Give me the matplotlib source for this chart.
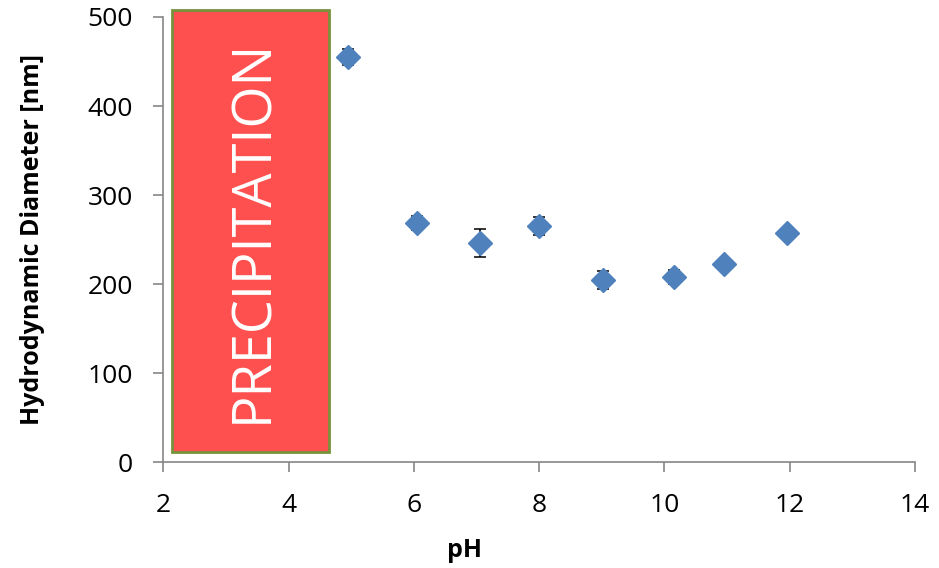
import matplotlib
matplotlib.use('Agg')
import matplotlib.pyplot as plt
from matplotlib.patches import Rectangle

# data
ph = [4.95, 6.05, 7.05, 8.0, 9.02, 10.15, 10.95, 11.95]
diameter = [455, 269, 246, 265, 205, 208, 223, 257]
err = [9, 8, 16, 10, 10, 8, 3, 3]

precip_x = [2.13, 4.65]
precip_y = [11, 508]
precip_label = 'PRECIPITATION'

x_ticks = [2, 4, 6, 8, 10, 12, 14]
y_ticks = [0, 100, 200, 300, 400, 500]


def main():
    plt.rcParams['font.family'] = ['Open Sans', 'DejaVu Sans']
    fig = plt.figure(figsize=(9.39, 5.68), dpi=100)
    ax = fig.add_axes([0.1741, 0.1861, 0.8003, 0.784])

    # red box over the precipitation range
    box = Rectangle((precip_x[0], precip_y[0]), precip_x[1] - precip_x[0],
                    precip_y[1] - precip_y[0], facecolor='#FF5050',
                    edgecolor='#77933C', linewidth=2.0, clip_on=False, zorder=1)
    ax.add_patch(box)
    ax.text(3.42, 260, precip_label,
            rotation=90, color='white', fontsize=39, ha='center', va='center',
            zorder=2)

    ax.errorbar(ph, diameter, yerr=err, fmt='D', color='#4F81BD', markersize=12,
                ecolor='black', elinewidth=1.1, capsize=4.5, capthick=1.1, zorder=3)

    ax.set_xlim(2, 14)
    ax.set_ylim(0, 500)
    ax.set_xticks(x_ticks)
    ax.set_yticks(y_ticks)
    ax.spines['top'].set_visible(False)
    ax.spines['right'].set_visible(False)
    for s in ['left', 'bottom']:
        ax.spines[s].set_color('#868686')
        ax.spines[s].set_linewidth(1.2)
    ax.tick_params(axis='both', direction='out', length=7, width=1.2,
                   color='#868686', labelsize=19, labelcolor='black')
    ax.tick_params(axis='x', pad=15)
    ax.tick_params(axis='y', pad=15)

    ax.set_xlabel('pH', fontsize=18, fontweight='bold', va='center')
    ax.xaxis.set_label_coords(0.40, -0.199)
    ax.set_ylabel('Hydrodynamic Diameter [nm]', fontsize=18, fontweight='bold',
                  va='center')
    ax.yaxis.set_label_coords(-0.1737, 0.5)

    plt.savefig('out.png', dpi=100)


if __name__ == '__main__':
    main()
